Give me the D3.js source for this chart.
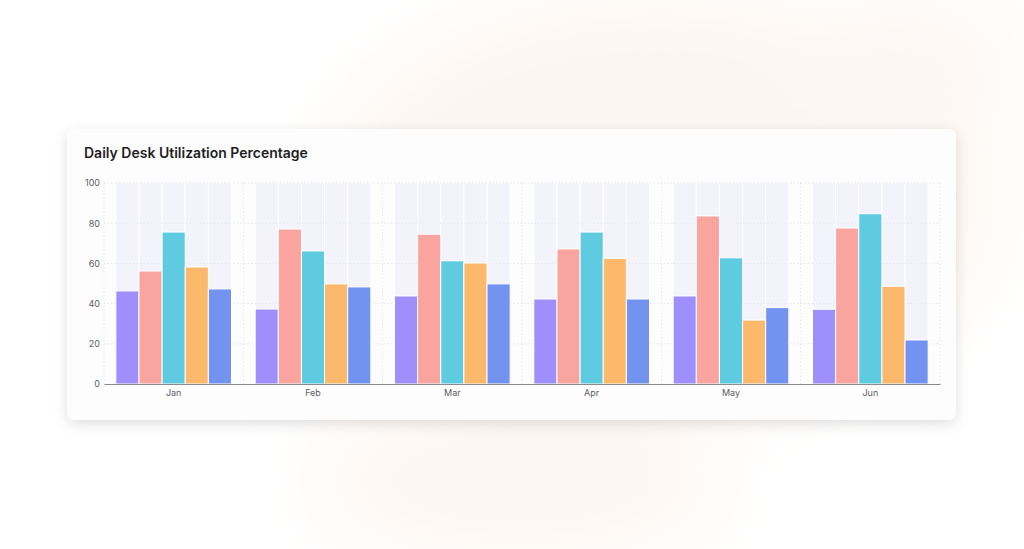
<!DOCTYPE html>
<html>
<head>
<meta charset="utf-8">
<script src="https://cdn.jsdelivr.net/npm/d3@7"></script>
<style>
  html, body { margin: 0; padding: 0; background: #fff; overflow: hidden; }
  svg { display: block; font-family: Inter, "Noto Sans", sans-serif; }
</style>
</head>
<body>
<div id="chart"></div>
<script>
// monthly groups, one bar per weekday
const months = ["Jan", "Feb", "Mar", "Apr", "May", "Jun"];
const series = ["Mon", "Tue", "Wed", "Thu", "Fri"];
const mon = [46.3, 37.3, 43.8, 42.3, 43.8, 37.2];
const tue = [56.2, 77.1, 74.5, 67.2, 83.6, 77.6];
const wed = [75.6, 66.2, 61.3, 75.6, 62.8, 84.7];
const thu = [58.2, 49.8, 60.2, 62.5, 31.8, 48.6];
const fri = [47.3, 48.3, 49.8, 42.3, 38.0, 21.9];
const yTicks = [0, 20, 40, 60, 80, 100];
const colors = ["#9e8ffd", "#f9a49f", "#5ecbe0", "#fdb96b", "#7293f0"];

const values = [mon, tue, wed, thu, fri];
const data = months.map((m, i) => ({
    month: m,
    bars: series.map((s, j) => ({ key: s, value: values[j][i] }))
}));

const width = 1024, height = 549;
const card = { x: 67, y: 129, w: 889, h: 291 };
const plot = { left: 104, right: 940, top: 183, bottom: 384 };

const svg = d3.select("#chart").append("svg")
    .attr("width", width)
    .attr("height", height);

const defs = svg.append("defs");
const blur = defs.append("filter").attr("id", "blur")
    .attr("x", "-50%").attr("y", "-50%").attr("width", "200%").attr("height", "200%");
blur.append("feGaussianBlur").attr("stdDeviation", 40);
const shadow = defs.append("filter").attr("id", "shadow")
    .attr("x", "-10%").attr("y", "-20%").attr("width", "120%").attr("height", "150%");
shadow.append("feDropShadow")
    .attr("dx", 0).attr("dy", 4).attr("stdDeviation", 7)
    .attr("flood-color", "#000").attr("flood-opacity", 0.12);

// faint peach wash behind the card
const wash = svg.append("g").attr("filter", "url(#blur)");
wash.append("ellipse").attr("cx", 660).attr("cy", 200).attr("rx", 330).attr("ry", 200).attr("fill", "#fdf5ef");
wash.append("ellipse").attr("cx", 520).attr("cy", 480).attr("rx", 200).attr("ry", 80).attr("fill", "#fdf6f1");
wash.append("ellipse").attr("cx", 900).attr("cy", 70).attr("rx", 120).attr("ry", 80).attr("fill", "#fdf7f3");

svg.append("rect")
    .attr("x", card.x).attr("y", card.y)
    .attr("width", card.w).attr("height", card.h)
    .attr("rx", 8)
    .attr("fill", "#fefdfe")
    .attr("filter", "url(#shadow)");

svg.append("text")
    .attr("x", 84).attr("y", 158)
    .attr("font-size", 14)
    .attr("font-weight", 600)
    .attr("fill", "#1f1f24")
    .text("Daily Desk Utilization Percentage");

const x0 = d3.scaleBand()
    .domain(months)
    .range([plot.left, plot.right])
    .paddingInner(0.17)
    .paddingOuter(0.085);

const x1 = d3.scaleBand()
    .domain(series)
    .range([0, x0.bandwidth()]);

const y = d3.scaleLinear()
    .domain([0, 100])
    .range([plot.bottom, plot.top]);

const color = d3.scaleOrdinal().domain(series).range(colors);

// grid
const grid = svg.append("g");
grid.selectAll("line.h")
    .data(yTicks.filter(d => d > 0))
    .join("line")
    .attr("class", "h")
    .attr("x1", plot.left).attr("x2", plot.right)
    .attr("y1", d => y(d)).attr("y2", d => y(d))
    .attr("stroke", "#e6e6ec")
    .attr("stroke-dasharray", "1.5,2");

const step = x0.step();
const vLines = months.map(m => x0(m) - step * 0.085).concat([plot.right]);
grid.selectAll("line.v")
    .data(vLines)
    .join("line")
    .attr("class", "v")
    .attr("x1", d => d).attr("x2", d => d)
    .attr("y1", plot.top).attr("y2", plot.bottom)
    .attr("stroke", "#e6e6ec")
    .attr("stroke-dasharray", "1.5,2");

const groups = svg.append("g").selectAll("g")
    .data(data)
    .join("g")
    .attr("transform", d => `translate(${x0(d.month)},0)`);

// light background column behind each bar
groups.selectAll("rect.bg")
    .data(d => d.bars)
    .join("rect")
    .attr("class", "bg")
    .attr("x", d => x1(d.key))
    .attr("y", y(100))
    .attr("width", x1.bandwidth())
    .attr("height", y(0) - y(100))
    .attr("fill", "#f3f4fb")
    .attr("stroke", "#ffffff")
    .attr("stroke-width", 1);

// horizontal grid shows faintly through the background columns
groups.selectAll("line.hg")
    .data(yTicks.filter(d => d > 0))
    .join("line")
    .attr("class", "hg")
    .attr("x1", 0).attr("x2", x0.bandwidth())
    .attr("y1", d => y(d)).attr("y2", d => y(d))
    .attr("stroke", "#e4e5ee")
    .attr("stroke-dasharray", "1.5,2");

groups.selectAll("rect.bar")
    .data(d => d.bars)
    .join("rect")
    .attr("class", "bar")
    .attr("x", d => x1(d.key))
    .attr("y", d => y(d.value))
    .attr("width", x1.bandwidth())
    .attr("height", d => y(0) - y(d.value))
    .attr("fill", d => color(d.key))
    .attr("stroke", "#ffffff")
    .attr("stroke-width", 1);

// axes
const yAxis = svg.append("g")
    .attr("transform", `translate(${plot.left},0)`)
    .call(d3.axisLeft(y).tickValues(yTicks).tickSize(0).tickPadding(4));
yAxis.select(".domain").remove();
yAxis.selectAll("text").attr("font-size", 9).attr("fill", "#5c5c66").attr("font-family", "Inter, sans-serif");

const xAxis = svg.append("g")
    .attr("transform", `translate(0,${plot.bottom})`)
    .call(d3.axisBottom(x0).tickSize(0).tickPadding(6));
xAxis.select(".domain").attr("stroke", "#8a8a92");
xAxis.selectAll("text").attr("font-size", 9).attr("fill", "#5c5c66").attr("font-family", "Inter, sans-serif");
</script>
</body>
</html>
